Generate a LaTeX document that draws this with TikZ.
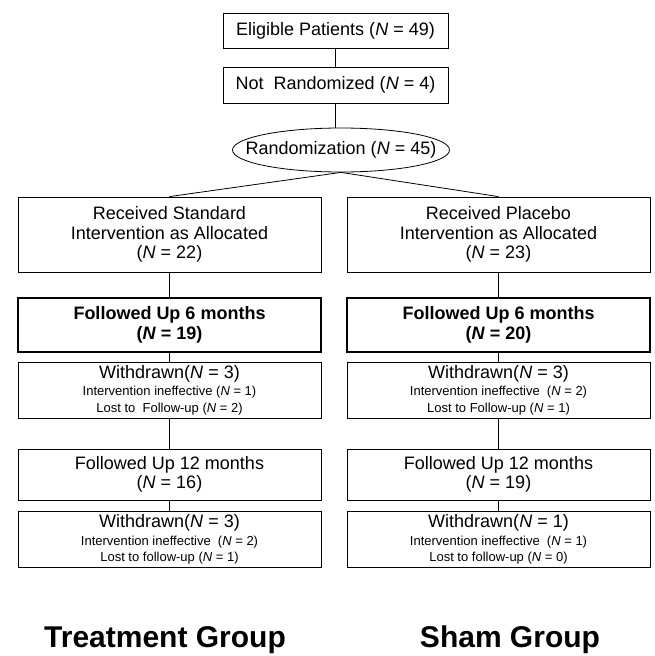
\documentclass[tikz,border=0pt]{standalone}
\usepackage{fontspec}
\setmainfont{Liberation Sans}
\usetikzlibrary{shapes.geometric}

\newcommand{\nn}{\textit{N}}
\newcommand{\boxfont}{\fontsize{18}{19.5}\selectfont}
\newcommand{\notefont}{\fontsize{13}{14}\selectfont}

\begin{document}
\begin{tikzpicture}[
    x=1pt, y=-1pt,
    line width=0.8pt,
    box/.style={rectangle,draw,align=center,inner sep=0pt,minimum width=303,font=\boxfont},
    thickbox/.style={box,line width=2.4pt,font=\boxfont\bfseries},
    link/.style={draw,line width=0.8pt}
]
\useasboundingbox (0,0) rectangle (654,656);

% Top of the chart
\node[box,minimum width=225,minimum height=35] (elig) at (335.5,30.5) {Eligible Patients (\nn{} = 49)};
\node[box,minimum width=225,minimum height=36] (notrand) at (335.5,85) {Not\ \ Randomized (\nn{} = 4)};
\node[ellipse,draw,font=\boxfont,inner ysep=0pt,inner xsep=-19pt,minimum width=217,minimum height=44] (rand) at (341,150) {Randomization\ (\nn{} = 45)};

% Treatment column
\node[box,minimum height=75] (reca) at (169.5,234.5) {Received Standard\\Intervention as Allocated\\(\nn{} = 22)};
\node[thickbox,minimum height=54] (fusixa) at (169.5,325) {Followed Up 6 months\\(\nn{} = 19)};
\node[box,minimum height=56] (wdsixa) at (169.5,390) {Withdrawn(\nn{} = 3)\\[-2pt]
    {\notefont Intervention\ ineffective (\nn{} = 1)}\\[-3pt]
    {\notefont Lost to\ \ Follow-up (\nn{} = 2)}};
\node[box,minimum height=51] (futwa) at (169.5,474.5) {Followed Up 12 months\\(\nn{} = 16)};
\node[box,minimum height=56] (wdtwa) at (169.5,539.5) {Withdrawn(\nn{} = 3)\\[-2pt]
    {\notefont Intervention ineffective\ \ (\nn{} = 2)}\\[-3pt]
    {\notefont Lost to follow-up (\nn{} = 1)}};

% Sham column
\node[box,minimum height=75] (recb) at (498.5,234.5) {Received Placebo\\Intervention as Allocated\\(\nn{} = 23)};
\node[thickbox,minimum height=54] (fusixb) at (498.5,325) {Followed Up 6 months\\(\nn{} = 20)};
\node[box,minimum height=56] (wdsixb) at (498.5,390) {Withdrawn(\nn{} = 3)\\[-2pt]
    {\notefont Intervention ineffective\ \ (\nn{} = 2)}\\[-3pt]
    {\notefont Lost to Follow-up (\nn{} = 1)}};
\node[box,minimum height=51] (futwb) at (498.5,474.5) {Followed Up 12 months\\(\nn{} = 19)};
\node[box,minimum height=56] (wdtwb) at (498.5,539.5) {Withdrawn(\nn{} = 1)\\[-2pt]
    {\notefont Intervention ineffective\ \ (\nn{} = 1)}\\[-3pt]
    {\notefont Lost to follow-up (\nn{} = 0)}};

% Group names
\node[font=\fontsize{30}{32}\selectfont\bfseries] (treat) at (165,640) {Treatment Group};
\node[font=\fontsize{30}{32}\selectfont\bfseries] (sham) at (510,640) {Sham Group};

% Links
\draw[link] (elig) -- (notrand);
\draw[link] (notrand.south) -- (notrand.south |- rand.north);
\draw[link] (rand.south) -- (reca.north);
\draw[link] (rand.south) -- (recb.north);
\draw[link] (reca) -- (fusixa);
\draw[link] (fusixa) -- (wdsixa);
\draw[link] (wdsixa) -- (futwa);
\draw[link] (futwa) -- (wdtwa);
\draw[link] (recb) -- (fusixb);
\draw[link] (fusixb) -- (wdsixb);
\draw[link] (wdsixb) -- (futwb);
\draw[link] (futwb) -- (wdtwb);

\end{tikzpicture}
\end{document}
